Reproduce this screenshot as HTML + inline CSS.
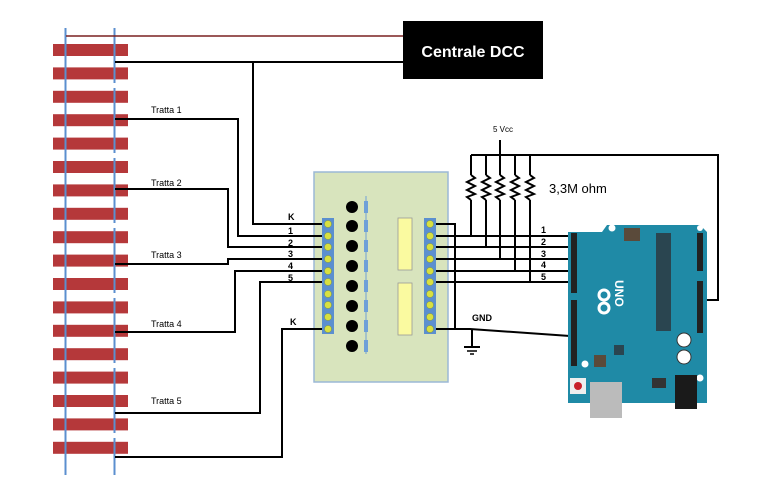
<!DOCTYPE html>
<html><head><meta charset="utf-8"><style>
html,body{margin:0;padding:0;background:#fff;}
svg{display:block;}
text{font-family:"Liberation Sans",sans-serif;}
</style></head><body>
<svg width="775" height="498" viewBox="0 0 775 498" xmlns="http://www.w3.org/2000/svg">
<!-- sleepers -->
<g fill="#b5383a">
<rect x="53" y="44" width="75" height="12"/><rect x="53" y="67.4" width="75" height="12"/><rect x="53" y="90.8" width="75" height="12"/><rect x="53" y="114.2" width="75" height="12"/><rect x="53" y="137.6" width="75" height="12"/><rect x="53" y="161" width="75" height="12"/><rect x="53" y="184.4" width="75" height="12"/><rect x="53" y="207.8" width="75" height="12"/><rect x="53" y="231.2" width="75" height="12"/><rect x="53" y="254.6" width="75" height="12"/><rect x="53" y="278" width="75" height="12"/><rect x="53" y="301.4" width="75" height="12"/><rect x="53" y="324.8" width="75" height="12"/><rect x="53" y="348.2" width="75" height="12"/><rect x="53" y="371.6" width="75" height="12"/><rect x="53" y="395" width="75" height="12"/><rect x="53" y="418.4" width="75" height="12"/><rect x="53" y="441.8" width="75" height="12"/>
</g>
<!-- rails -->
<g stroke="#5b8fcf" stroke-width="2">
<line x1="65.5" y1="28" x2="65.5" y2="475"/>
<line x1="114.5" y1="28" x2="114.5" y2="83"/><line x1="114.5" y1="88" x2="114.5" y2="153"/><line x1="114.5" y1="158" x2="114.5" y2="223"/><line x1="114.5" y1="228" x2="114.5" y2="293"/><line x1="114.5" y1="298" x2="114.5" y2="363"/><line x1="114.5" y1="368" x2="114.5" y2="433"/><line x1="114.5" y1="438" x2="114.5" y2="475"/>
</g>
<line x1="66" y1="36" x2="403" y2="36" stroke="#7a2020" stroke-width="1.5"/>
<!-- DCC -->
<rect x="403" y="21" width="140" height="58" fill="#000"/>
<text x="473" y="57" fill="#fff" font-size="16" font-weight="bold" text-anchor="middle">Centrale DCC</text>
<!-- board -->
<rect x="314" y="172" width="134" height="210" fill="#d8e4bd" stroke="#9bb8d6" stroke-width="1.5"/>
<g fill="#000">
<circle cx="352" cy="207" r="6"/><circle cx="352" cy="226" r="6"/><circle cx="352" cy="246" r="6"/><circle cx="352" cy="266" r="6"/><circle cx="352" cy="286" r="6"/><circle cx="352" cy="306" r="6"/><circle cx="352" cy="326" r="6"/><circle cx="352" cy="346" r="6"/>
</g>
<g fill="#6fa0d8"><rect x="364" y="201" width="4" height="12"/><rect x="364" y="220" width="4" height="12"/><rect x="364" y="240" width="4" height="12"/><rect x="364" y="260" width="4" height="12"/><rect x="364" y="280" width="4" height="12"/><rect x="364" y="300" width="4" height="12"/><rect x="364" y="320" width="4" height="12"/><rect x="364" y="340" width="4" height="12"/></g>
<line x1="366" y1="196" x2="366" y2="354" stroke="#6fa0d8" stroke-width="1"/>
<rect x="398" y="218" width="14" height="52" fill="#fafaa0" stroke="#999" stroke-width="0.8"/>
<rect x="398" y="283" width="14" height="52" fill="#fafaa0" stroke="#999" stroke-width="0.8"/>
<!-- wires -->
<g fill="none" stroke="#000" stroke-width="2">
<polyline points="115,62 403,62"/>
<polyline points="253,62 253,224 323,224"/>
<polyline points="115,119 238,119 238,236 323,236"/>
<polyline points="115,189 228,189 228,247 323,247"/>
<polyline points="115,264 228,264 228,259 323,259"/>
<polyline points="115,332 235,332 235,271 323,271"/>
<polyline points="323,282 260,282 260,413 115,413"/>
<polyline points="323,329 282,329 282,457 115,457"/>
<!-- right side -->
<polyline points="436,224 455,224 455,329"/>
<polyline points="436,329 470,329 570,336"/>
<line x1="436" y1="236" x2="572" y2="236"/>
<line x1="436" y1="247" x2="572" y2="247"/>
<line x1="436" y1="259" x2="572" y2="259"/>
<line x1="436" y1="271" x2="572" y2="271"/>
<line x1="436" y1="282" x2="572" y2="282"/>
<line x1="500" y1="140" x2="500" y2="155"/>
<polyline points="471,155 718,155 718,300 705,300"/>
<line x1="471" y1="155" x2="471" y2="175"/><line x1="471" y1="200" x2="471" y2="236"/>
<line x1="486" y1="155" x2="486" y2="175"/><line x1="486" y1="200" x2="486" y2="247"/>
<line x1="500" y1="155" x2="500" y2="175"/><line x1="500" y1="200" x2="500" y2="259"/>
<line x1="515" y1="155" x2="515" y2="175"/><line x1="515" y1="200" x2="515" y2="271"/>
<line x1="530" y1="155" x2="530" y2="175"/><line x1="530" y1="200" x2="530" y2="282"/>
<polyline points="471,175 475,178 467,182 475,186 467,190 475,194 467,197 471,200"/>
<polyline points="486,175 490,178 482,182 490,186 482,190 490,194 482,197 486,200"/>
<polyline points="500,175 504,178 496,182 504,186 496,190 504,194 496,197 500,200"/>
<polyline points="515,175 519,178 511,182 519,186 511,190 519,194 511,197 515,200"/>
<polyline points="530,175 534,178 526,182 534,186 526,190 534,194 526,197 530,200"/>
<line x1="472" y1="329" x2="472" y2="347"/>
<line x1="464" y1="347" x2="480" y2="347"/>
<line x1="467" y1="351" x2="477" y2="351" stroke-width="1.5"/>
<line x1="470" y1="354" x2="474" y2="354" stroke-width="1.5"/>
</g>
<!-- terminal strips -->
<g>
<rect x="322" y="218" width="12" height="116" fill="#5b8fcf"/>
<rect x="424" y="218" width="12" height="116" fill="#5b8fcf"/>
<g fill="#d8e040" stroke="#8a9a30" stroke-width="0.5">
<circle cx="328" cy="224" r="3.5"/><circle cx="328" cy="236" r="3.5"/><circle cx="328" cy="247" r="3.5"/><circle cx="328" cy="259" r="3.5"/><circle cx="328" cy="271" r="3.5"/><circle cx="328" cy="282" r="3.5"/><circle cx="328" cy="294" r="3.5"/><circle cx="328" cy="305" r="3.5"/><circle cx="328" cy="317" r="3.5"/><circle cx="328" cy="329" r="3.5"/>
<circle cx="430" cy="224" r="3.5"/><circle cx="430" cy="236" r="3.5"/><circle cx="430" cy="247" r="3.5"/><circle cx="430" cy="259" r="3.5"/><circle cx="430" cy="271" r="3.5"/><circle cx="430" cy="282" r="3.5"/><circle cx="430" cy="294" r="3.5"/><circle cx="430" cy="305" r="3.5"/><circle cx="430" cy="317" r="3.5"/><circle cx="430" cy="329" r="3.5"/>
</g>
</g>
<!-- labels -->
<g font-size="9" fill="#000">
<text x="151" y="113">Tratta 1</text><text x="151" y="186">Tratta 2</text><text x="151" y="258">Tratta 3</text><text x="151" y="327">Tratta 4</text><text x="151" y="404">Tratta 5</text>
<text x="493" y="132" font-size="8">5 Vcc</text>
</g>
<g font-size="9" font-weight="bold" fill="#000">
<text x="288" y="220">K</text><text x="288" y="234">1</text><text x="288" y="246">2</text><text x="288" y="257">3</text><text x="288" y="269">4</text><text x="288" y="281">5</text><text x="290" y="325">K</text>
<text x="541" y="233">1</text><text x="541" y="245">2</text><text x="541" y="257">3</text><text x="541" y="268">4</text><text x="541" y="280">5</text>
<text x="472" y="321">GND</text>
</g>
<text x="549" y="193" font-size="13" fill="#000">3,3M ohm</text>
<!-- Arduino -->
<path d="M568,232 L602,232 L607,225 L700,225 L707,232 L707,403 L568,403 Z" fill="#1f8aa6"/>
<rect x="571" y="233" width="6" height="60" fill="#222"/>
<rect x="571" y="300" width="6" height="66" fill="#222"/>
<rect x="697" y="233" width="6" height="38" fill="#222"/>
<rect x="697" y="281" width="6" height="52" fill="#222"/>
<rect x="656" y="233" width="15" height="98" fill="#2a4550"/>
<rect x="624" y="228" width="16" height="13" fill="#5a4a3a"/>
<rect x="594" y="355" width="12" height="12" fill="#5a4a3a"/>
<circle cx="612" cy="228" r="3.5" fill="#fff"/><circle cx="700" cy="228" r="3" fill="#fff"/>
<circle cx="585" cy="364" r="3.5" fill="#fff"/><circle cx="700" cy="378" r="3.5" fill="#fff"/>
<circle cx="684" cy="340" r="7" fill="#fff" stroke="#333"/><circle cx="684" cy="357" r="7" fill="#fff" stroke="#333"/>
<text x="615" y="280" font-size="12" font-weight="bold" fill="#fff" transform="rotate(90 615 280)">UNO</text>
<circle cx="604" cy="295" r="5" fill="none" stroke="#fff" stroke-width="3"/><circle cx="604" cy="308" r="5" fill="none" stroke="#fff" stroke-width="3"/>
<rect x="614" y="345" width="10" height="10" fill="#2a4550"/>
<rect x="570" y="378" width="16" height="16" fill="#eee"/><circle cx="578" cy="386" r="4" fill="#c8202a"/>
<rect x="590" y="382" width="32" height="36" fill="#bbb"/>
<rect x="675" y="375" width="22" height="34" fill="#1a1a1a"/>
<rect x="652" y="378" width="14" height="10" fill="#333"/>
</svg>
</body></html>
